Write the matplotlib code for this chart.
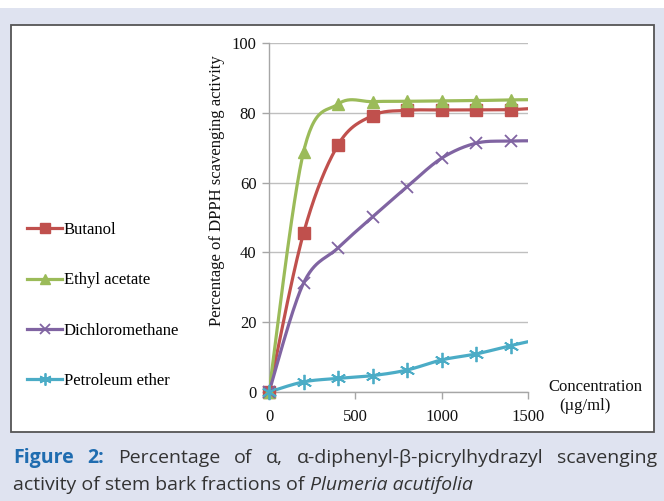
import numpy as np
import matplotlib
matplotlib.use('Agg')
import matplotlib.pyplot as plt
from matplotlib.lines import Line2D
from matplotlib.patches import Rectangle

# data (last point lies past the axis end, clipped)
concentration = [0, 200, 400, 600, 800, 1000, 1200, 1400, 1600]
butanol = [0, 45.5, 70.8, 79.2, 80.7, 80.8, 80.8, 80.9, 81.5]
ethylAcetate = [0, 68.8, 82.5, 83.2, 83.3, 83.4, 83.5, 83.7, 83.8]
dichloromethane = [0, 31.2, 41.3, 50.2, 58.8, 67.0, 71.3, 71.9, 72.0]
petroleumEther = [0, 2.9, 3.9, 4.7, 6.3, 9.2, 10.9, 13.3, 15.5]

seriesNames = ['Butanol', 'Ethyl acetate', 'Dichloromethane', 'Petroleum ether']
seriesValues = [butanol, ethylAcetate, dichloromethane, petroleumEther]
colors = ['#c0504d', '#9bbb59', '#8064a2', '#4bacc6']
markers = ['s', '^', 'x', (6, 2, 0)]
markerSizes = [9, 9, 9, 11]

xTicks = [0, 500, 1000, 1500]
yTicks = [0, 20, 40, 60, 80, 100]

captionWords = ['Figure', '2:', 'Percentage', 'of', '\u03b1,',
                '\u03b1-diphenyl-\u03b2-picrylhydrazyl', 'scavenging']
captionLine2 = 'activity of stem bark fractions of '
captionItalic = 'Plumeria acutifolia'


def smoothLine(x, y, n=30):
    # excel-like smoothing: cubic bezier with catmull-rom control points
    x = np.asarray(x, float)
    y = np.asarray(y, float)
    px, py = [], []
    for i in range(len(x) - 1):
        i0 = max(i - 1, 0)
        i3 = min(i + 2, len(x) - 1)
        c1x = x[i] + (x[i + 1] - x[i0]) / 6.
        c1y = y[i] + (y[i + 1] - y[i0]) / 6.
        c2x = x[i + 1] - (x[i3] - x[i]) / 6.
        c2y = y[i + 1] - (y[i3] - y[i]) / 6.
        t = np.linspace(0, 1, n)
        px.extend((1 - t)**3 * x[i] + 3 * (1 - t)**2 * t * c1x + 3 * (1 - t) * t**2 * c2x + t**3 * x[i + 1])
        py.extend((1 - t)**3 * y[i] + 3 * (1 - t)**2 * t * c1y + 3 * (1 - t) * t**2 * c2y + t**3 * y[i + 1])
    return np.array(px), np.array(py)


W, H = 664, 501
fig = plt.figure(figsize=(W / 100., H / 100.), dpi=100)
fig.patch.set_facecolor('#dfe3f0')

# white strip on top and the white chart box
fig.patches.append(Rectangle((0, 1 - 8. / H), 1, 8. / H, transform=fig.transFigure,
                             facecolor='white', edgecolor='none', zorder=-2))
fig.patches.append(Rectangle((11. / W, 1 - 432. / H), 643. / W, 407. / H, transform=fig.transFigure,
                             facecolor='white', edgecolor='#555555', linewidth=1.3, zorder=-2))

ax = fig.add_axes([269. / W, 1 - 392. / H, 259. / W, 349. / H])
ax.set_facecolor('none')

serif = 'Liberation Serif'
handles = []
for name, vals, c, m, ms in zip(seriesNames, seriesValues, colors, markers, markerSizes):
    sx, sy = smoothLine(concentration, vals)
    ax.plot(sx, sy, color=c, lw=2.3, zorder=3, solid_capstyle='butt')
    mx = [v for v in concentration if v <= 1500]
    my = vals[:len(mx)]
    mew = 1.0 if m in ('s', '^') else 1.3
    ax.plot(mx, my, linestyle='none', marker=m, ms=ms, color=c, mec=c, mew=mew,
            zorder=4, clip_on=False)
    handles.append(Line2D([], [], color=c, lw=2.3, marker=m, ms=ms * 0.8, mec=c, mew=mew))

ax.set_xlim(0, 1500)
ax.set_ylim(0, 100)
ax.set_xticks(xTicks)
ax.set_yticks(yTicks)
ax.grid(axis='y', color='#bfbfbf', lw=1.0)
ax.set_axisbelow(True)
for s in ['top', 'right']:
    ax.spines[s].set_visible(False)
for s in ['left', 'bottom']:
    ax.spines[s].set_color('#a6a6a6')
    ax.spines[s].set_linewidth(1.0)
ax.tick_params(axis='both', direction='out', length=5, color='#a6a6a6', width=1.0,
               labelsize=12, labelcolor='#111111')
ax.tick_params(axis='x', pad=7)
ax.tick_params(axis='y', pad=4)
for lab in ax.get_xticklabels() + ax.get_yticklabels():
    lab.set_family(serif)

fig.text(217. / W, 1 - 191. / H, 'Percentage of DPPH scavenging activity', rotation=90,
         ha='center', va='center', fontsize=12, family=serif, color='#111111')
fig.text(595. / W, 1 - 387. / H, 'Concentration', ha='center', va='center',
         fontsize=12, family=serif, color='#111111')
fig.text(585. / W, 1 - 406. / H, '(\u00b5g/ml)', ha='center', va='center',
         fontsize=12, family=serif, color='#111111')

fig.legend(handles, seriesNames, loc='center left', bbox_to_anchor=(12. / W, 1 - 305.5 / H),
           frameon=False, handlelength=2.1, handletextpad=0.1, labelspacing=2.05,
           prop={'family': serif, 'size': 12})

# caption, first line justified across the box width
capFont = 'Open Sans'
capSize = 14
capColor = '#333333'
blue = '#1f6cb0'
y1 = 1 - 458. / H
y2 = 1 - 485. / H
fig.canvas.draw()
renderer = fig.canvas.get_renderer()
wordTexts = []
for k, word in enumerate(captionWords):
    if k < 2:
        tx = fig.text(0, y1, word, color=blue, weight='bold', family=capFont, fontsize=capSize, va='center')
    else:
        tx = fig.text(0, y1, word, color=capColor, family=capFont, fontsize=capSize, va='center')
    wordTexts.append(tx)
widths = [tx.get_window_extent(renderer).width for tx in wordTexts]
left, right = 13., 657.
gap = (right - left - sum(widths)) / (len(widths) - 1)
xp = left
for tx, w in zip(wordTexts, widths):
    tx.set_x(xp / W)
    xp += w + gap

t = fig.text(13. / W, y2, captionLine2, color=capColor, family=capFont, fontsize=capSize, va='center')
bb = t.get_window_extent(renderer)
fig.text(bb.x1 / W, y2, captionItalic, color=capColor, family=capFont,
         style='italic', fontsize=capSize, va='center')

fig.savefig('out.png', dpi=100, facecolor=fig.get_facecolor())
